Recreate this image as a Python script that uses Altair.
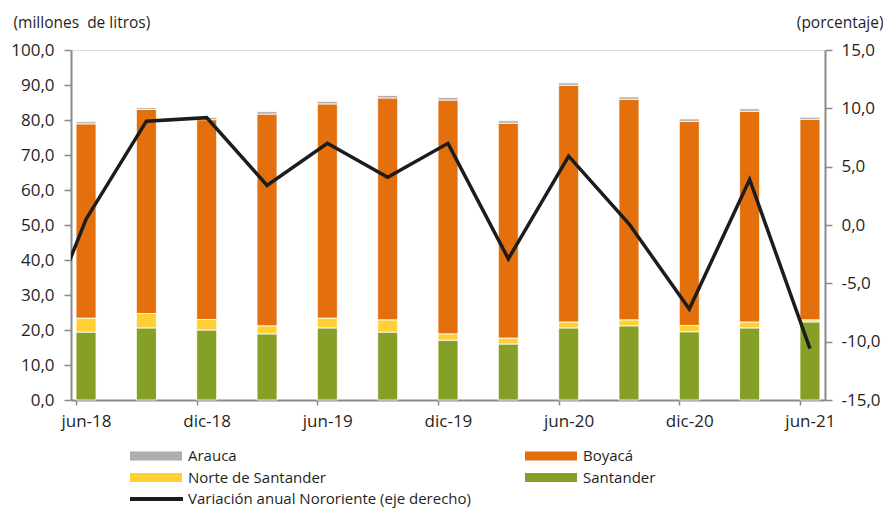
import altair as alt
import pandas as pd

# ---- data ----
periodos = ["jun-18", "sep-18", "dic-18", "mar-19", "jun-19", "sep-19", "dic-19",
            "mar-20", "jun-20", "sep-20", "dic-20", "mar-21", "jun-21"]
santander = [19.4, 20.6, 20.0, 18.9, 20.6, 19.4, 17.1, 16.0, 20.6, 21.2, 19.5, 20.6, 22.3]
norte = [4.0, 4.1, 3.0, 2.3, 2.8, 3.5, 1.8, 1.7, 1.7, 1.7, 1.8, 1.7, 0.6]
boyaca = [55.5, 58.3, 57.1, 60.5, 61.2, 63.4, 66.8, 61.4, 67.6, 63.0, 58.3, 60.2, 57.3]
arauca = [0.6, 0.5, 0.6, 0.7, 0.7, 0.7, 0.7, 0.7, 0.7, 0.7, 0.7, 0.7, 0.6]

periodos_linea = ["mar-18"] + periodos
variacion = [-12.5, 0.5, 8.9, 9.2, 3.4, 7.0, 4.1, 7.0, -2.9, 5.9, 0.1, -7.2, 3.9, -10.6]

etiquetas_x = ["jun-18", "dic-18", "jun-19", "dic-19", "jun-20", "dic-20", "jun-21"]

series = ["Santander", "Norte de Santander", "Boyacá", "Arauca"]
colores = ["#86A027", "#FFD034", "#E3700D", "#AEAEAE"]
linea_nombre = "Variación anual Nororiente (eje derecho)"
linea_color = "#1c1c1c"

# month index (quarterly, 3 months apart)
mes = [3 * i for i in range(len(periodos))]
mes_linea = [3 * (i - 1) for i in range(len(periodos_linea))]

rows = []
for name, vals in zip(series, [santander, norte, boyaca, arauca]):
    for p, m, v in zip(periodos, mes, vals):
        rows.append({"periodo": p, "mes": m, "depto": name, "valor": v,
                     "orden": series.index(name)})
df_bar = pd.DataFrame(rows)
df_line = pd.DataFrame({"periodo": periodos_linea, "mes": mes_linea, "var": variacion})

FONT = "Open Sans"
TXT = "#1f1f1f"
AX = "#8a8a8a"
W, H = 754, 350

label_expr = "[" + ",".join("'" + s + "'" for s in etiquetas_x) + "][round((datum.value + 0.5) / 6)]"
num_expr = "replace(replace(format(datum.value, '.1f'), '.', ','), '\u2212', '-')"

x_enc = alt.X(
    "mes:Q",
    scale=alt.Scale(domain=[-0.5, 36.5], nice=False, zero=False),
    axis=alt.Axis(values=[-0.5 + 6 * k for k in range(len(etiquetas_x))],
                  labelExpr=label_expr, labelOffset=10, labelPadding=8,
                  labelFont=FONT, labelFontSize=17, labelColor=TXT,
                  tickSize=5, tickColor=AX, tickWidth=1.5,
                  domainColor=AX, domainWidth=2, grid=False, title=None,
                  labelFlush=False, labelOverlap=False),
)

bars = alt.Chart(df_bar).mark_bar(size=20, stroke="white", strokeWidth=0.8).encode(
    x=x_enc,
    y=alt.Y("valor:Q", stack="zero",
            scale=alt.Scale(domain=[0, 100], nice=False),
            axis=alt.Axis(values=list(range(0, 101, 10)),
                          labelExpr=num_expr,
                          labelFont=FONT, labelFontSize=17, labelColor=TXT,
                          labelPadding=10, tickSize=7, tickColor=AX, tickWidth=1.5,
                          domainColor=AX, domainWidth=2, grid=False,
                          title="(millones \u00a0de litros)", titleAngle=0,
                          titleAlign="left", titleBaseline="middle",
                          titleX=-58, titleY=-28, titleFont=FONT,
                          titleFontSize=15.5, titleFontWeight="normal", titleColor=TXT)),
    color=alt.Color("depto:N", scale=alt.Scale(domain=series, range=colores), legend=None),
    order=alt.Order("orden:Q"),
)

line = alt.Chart(df_line).mark_line(clip=True, color=linea_color, strokeWidth=3.5).encode(
    x=x_enc,
    y=alt.Y("var:Q",
            scale=alt.Scale(domain=[-15, 15], nice=False, zero=False),
            axis=alt.Axis(orient="right", values=list(range(-15, 16, 5)),
                          labelExpr=num_expr,
                          labelFont=FONT, labelFontSize=17, labelColor=TXT,
                          labelPadding=9, tickSize=7, tickColor=AX, tickWidth=1.5,
                          domainColor=AX, domainWidth=2, grid=False,
                          title="(porcentaje)", titleAngle=0,
                          titleAlign="right", titleBaseline="middle",
                          titleX=58, titleY=-28, titleFont=FONT,
                          titleFontSize=15.5, titleFontWeight="normal", titleColor=TXT)),
)

# ---- custom legend (two columns) ----
one = pd.DataFrame({"k": [0]})
legend_items = [
    ("Arauca", colores[3], 0, 0),
    ("Boyacá", colores[2], 1, 0),
    ("Norte de Santander", colores[1], 0, 1),
    ("Santander", colores[0], 1, 1),
]
col_x = [59, 454]
row_y = [406, 427.5, 449]
legend_layers = []
for name, col, c, r in legend_items:
    x0 = col_x[c]
    yc = row_y[r]
    legend_layers.append(
        alt.Chart(one).mark_rect(color=col).encode(
            x=alt.value(x0), x2=alt.value(x0 + 52),
            y=alt.value(yc - 4.5), y2=alt.value(yc + 4.5)))
    legend_layers.append(
        alt.Chart(one).mark_text(text=name, align="left", baseline="middle",
                                 font=FONT, fontSize=15, color=TXT).encode(
            x=alt.value(x0 + 58), y=alt.value(yc)))
legend_layers.append(
    alt.Chart(one).mark_rule(color=linea_color, strokeWidth=4).encode(
        x=alt.value(col_x[0]), x2=alt.value(col_x[0] + 53), y=alt.value(row_y[2])))
legend_layers.append(
    alt.Chart(one).mark_text(text=linea_nombre, align="left", baseline="middle",
                             font=FONT, fontSize=15, color=TXT).encode(
        x=alt.value(col_x[0] + 58), y=alt.value(row_y[2])))

chart = alt.layer(bars, line, *legend_layers).resolve_scale(y="independent").properties(
    width=W, height=H,
    autosize=alt.AutoSizeParams(type="none"),
    padding={"left": 63, "top": 42, "right": 58, "bottom": 110},
).configure_view(stroke=None).configure(background="white")

chart.save("out.html", embed_options={"renderer": "svg", "actions": False})
